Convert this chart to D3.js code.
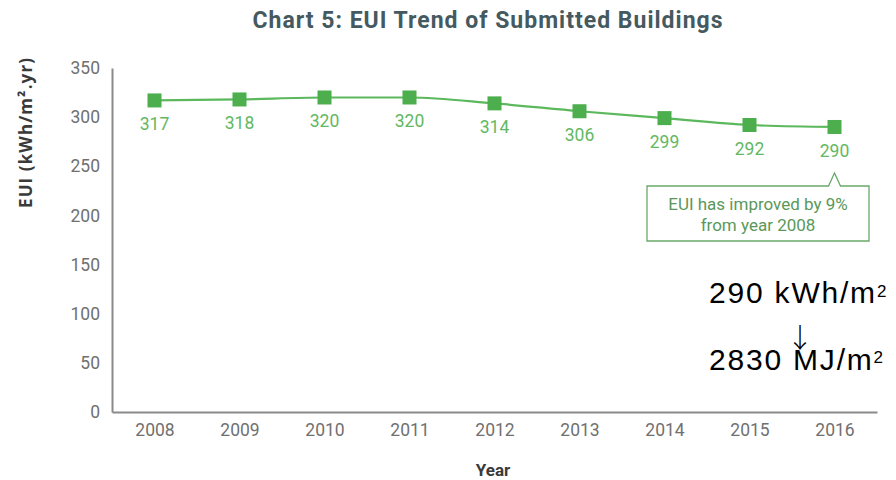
<!DOCTYPE html>
<html><head><meta charset="utf-8">
<script src="https://cdn.jsdelivr.net/npm/d3@7"></script>
<style>body{margin:0;background:#fff}svg{display:block}</style>
</head><body>
<svg id="c" width="896" height="480"></svg>
<script>
const years = ["2008","2009","2010","2011","2012","2013","2014","2015","2016"];
const eui = [317,318,320,320,314,306,299,292,290];
const yTicks = [0,50,100,150,200,250,300,350];
const title = "Chart 5: EUI Trend of Submitted Buildings";
const note = ["EUI has improved by 9%","from year 2008"];

const svg = d3.select("#c");
const x = d3.scalePoint().domain(years).range([112,877]).padding(0.5);
const y = d3.scaleLinear().domain([0,350]).range([412,68]);
const green = "#4cae4c", lab = "#62b862";

svg.append("text").attr("x",487.5).attr("y",28).attr("text-anchor","middle")
  .attr("font-family","Roboto").attr("font-weight","bold").attr("font-size",23)
  .attr("textLength",470).attr("lengthAdjust","spacing")
  .attr("fill","#455a60").text(title);

// y axis
const ya = svg.append("g").attr("transform","translate(112,0)")
  .call(d3.axisLeft(y).tickValues(yTicks).tickSize(0).tickPadding(12));
ya.select(".domain").attr("stroke","#8a8a8a").attr("stroke-width",2);
ya.selectAll("text").attr("font-family","Roboto").attr("font-size",17.5).attr("fill","#707070");

const xa = svg.append("g").attr("transform","translate(0,412)")
  .call(d3.axisBottom(x).tickSize(0).tickPadding(12));
xa.select(".domain").attr("stroke","#8a8a8a").attr("stroke-width",2);
xa.selectAll("text").attr("font-family","Roboto").attr("font-size",17.5).attr("fill","#707070");

svg.append("text").attr("transform","translate(32,133) rotate(-90)").attr("text-anchor","middle")
  .attr("font-family","Open Sans").attr("font-weight","bold").attr("font-size",17)
  .attr("textLength",150).attr("lengthAdjust","spacing").attr("fill","#3a3a3a")
  .text("EUI (kWh/m².yr)");
svg.append("text").attr("x",493).attr("y",476).attr("text-anchor","middle")
  .attr("font-family","Roboto").attr("font-weight","bold").attr("font-size",17).attr("fill","#3a3a3a")
  .text("Year");

const line = d3.line().x((d,i)=>x(years[i])).y(d=>y(d)).curve(d3.curveMonotoneX);
svg.append("path").datum(eui).attr("d",line).attr("fill","none").attr("stroke","#5cb85c").attr("stroke-width",2.2);
svg.selectAll("rect.m").data(eui).join("rect").attr("class","m")
  .attr("x",(d,i)=>x(years[i])-7).attr("y",d=>y(d)-7).attr("width",14).attr("height",14).attr("fill",green);
svg.selectAll("text.l").data(eui).join("text").attr("class","l")
  .attr("x",(d,i)=>x(years[i])).attr("y",d=>y(d)+30).attr("text-anchor","middle")
  .attr("font-family","Roboto").attr("font-size",17.5).attr("fill",lab).text(d=>d);

// annotation callout
const px = x("2016"), bx0=647, bx1=869, by0=186, by1=241;
svg.append("path").attr("d",`M${bx0},${by0}H${px-6}L${px},${by0-13}L${px+6},${by0}H${bx1}V${by1}H${bx0}Z`)
  .attr("fill","#fff").attr("stroke","#6aa86a").attr("stroke-width",1.3);
svg.selectAll("text.n").data(note).join("text").attr("class","n")
  .attr("x",(bx0+bx1)/2).attr("y",(d,i)=>210+i*21).attr("text-anchor","middle")
  .attr("font-family","Roboto").attr("font-size",17).attr("fill","#5a985a").text(d=>d);

// conversion text
const g = svg.append("g").attr("font-family","Liberation Sans, Arial").attr("fill","#000");
g.append("text").attr("x",709).attr("y",303).attr("font-size",30).attr("letter-spacing",1.8)
  .html('290 kWh/m<tspan font-size="17" dy="-6">2</tspan>');
g.append("text").attr("x",800).attr("y",348).attr("text-anchor","middle")
  .attr("font-family","Noto Sans CJK SC").attr("font-size",27).attr("font-weight",300).text("↓");
g.append("text").attr("x",709).attr("y",370).attr("font-size",30).attr("letter-spacing",1.8)
  .html('2830 MJ/m<tspan font-size="17" dy="-7">2</tspan>');
</script>
</body></html>
